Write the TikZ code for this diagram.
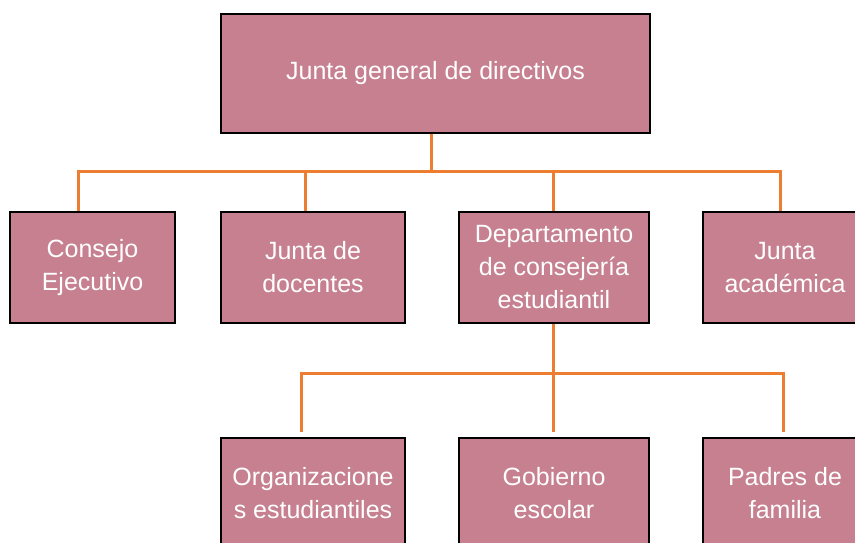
\documentclass[tikz,border=0pt]{standalone}
\usepackage{fontspec}
\setmainfont{Liberation Sans}
\definecolor{boxfill}{HTML}{C6808F}
\definecolor{conncol}{HTML}{ED7D31}
\begin{document}
\begin{tikzpicture}[x=1pt,y=-1pt,
  box/.style={draw=black, line width=2pt, fill=boxfill, text=white, align=center,
    inner sep=0pt, font=\fontsize{25}{33}\selectfont},
  conn/.style={draw=conncol, line width=3pt}]
\clip (0,0) rectangle (855,543);
\fill[white] (0,0) rectangle (855,543);
% top
\node[box, minimum width=429pt, minimum height=119pt] (top) at (435.5,73.5) {Junta general de directivos};
% row 2
\node[box, minimum width=165pt, minimum height=111pt] (c1) at (92.5,267.5) {Consejo\\Ejecutivo};
\node[box, minimum width=184pt, minimum height=111pt] (c2) at (313,267.5) {Junta de\\docentes};
\node[box, minimum width=190pt, minimum height=111pt] (c3) at (554,267.5) {Departamento\\de consejería\\estudiantil};
\node[box, minimum width=164pt, minimum height=111pt] (c4) at (785,267.5) {Junta\\académica};
% row 3
\node[box, minimum width=184pt, minimum height=110pt] (d1) at (313,493) {Organizacione\\s estudiantiles};
\node[box, minimum width=190pt, minimum height=110pt] (d2) at (554,493) {Gobierno\\escolar};
\node[box, minimum width=164pt, minimum height=110pt] (d3) at (785,493) {Padres de\\familia};
% bus coordinates
\coordinate (b0) at (431,171);
\coordinate (v1) at (78,171);
\coordinate (v2) at (305,171);
\coordinate (v3) at (553,171);
\coordinate (v4) at (780,171);
\coordinate (e0) at (553,373);
\coordinate (w1) at (301,373);
\coordinate (w3) at (783,373);
% connectors level 1
\draw[conn] (top.south -| b0) -- (b0);
\draw[conn] (c1.north -| v1) -- (v1) -- (v4) -- (c4.north -| v4);
\draw[conn] (c2.north -| v2) -- (v2);
\draw[conn] (c3.north -| v3) -- (v3);
% connectors level 2
\draw[conn] (c3.south -| e0) -- (e0);
\draw[conn] ([yshift=5pt]d1.north -| w1) -- (w1) -- (w3) -- ([yshift=5pt]d3.north -| w3);
\draw[conn] ([yshift=5pt]d2.north -| e0) -- (e0);
\end{tikzpicture}
\end{document}
